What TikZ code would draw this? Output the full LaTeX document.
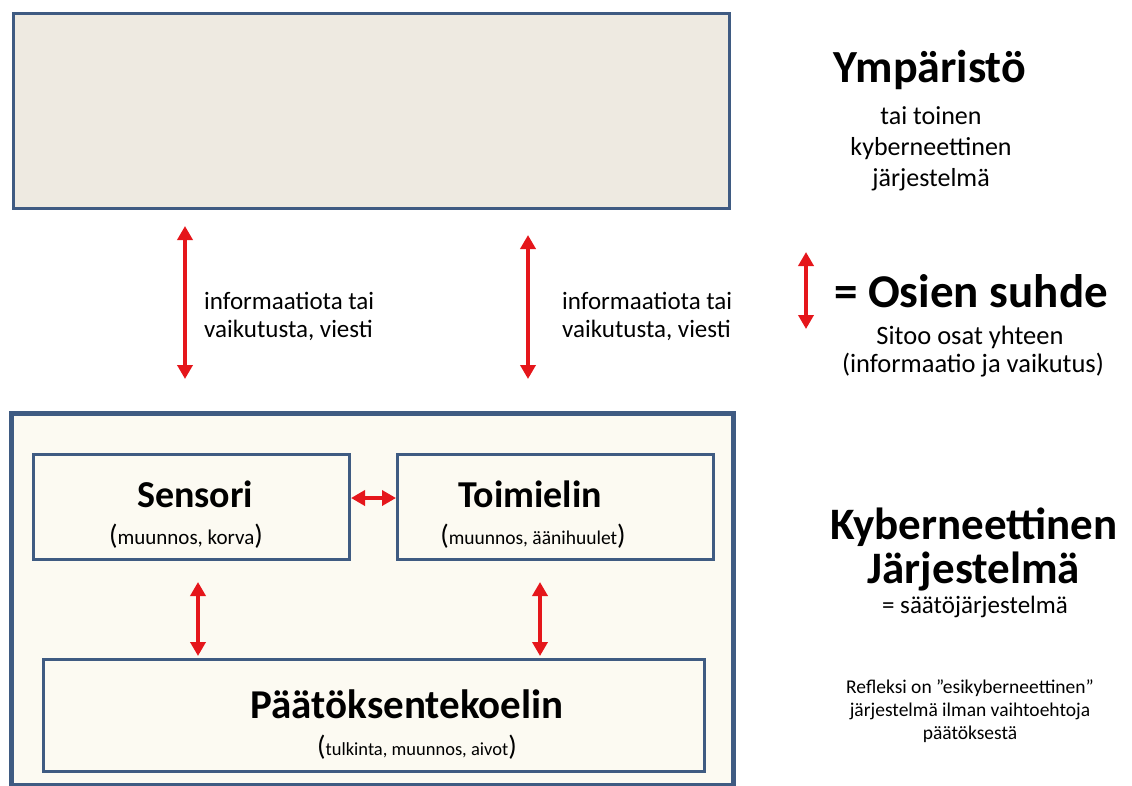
\documentclass[tikz,border=0pt]{standalone}
\usepackage{fontspec}
\setmainfont{Carlito}
\usetikzlibrary{arrows.meta}
\definecolor{boxline}{HTML}{3F5B82}
\definecolor{envfill}{HTML}{EEEAE1}
\definecolor{sysfill}{HTML}{FCFAF2}
\definecolor{linkred}{HTML}{E5161B}
\newcommand{\bigparen}[1]{{\fontsize{28}{28}\selectfont(}#1{\fontsize{28}{28}\selectfont)}}
\begin{document}
\begin{tikzpicture}[x=1pt,y=-1pt,
    part/.style ={draw=boxline, line width=3pt, fill=sysfill, inner sep=0pt, anchor=north west},
    link/.style ={linkred, line width=4pt, {Triangle[length=14pt,width=15pt]}-{Triangle[length=14pt,width=15pt]}},
    txt/.style ={inner sep=0pt, align=center}]
 \useasboundingbox (0,0) rectangle (1132,785);
 % boxes
 \node[part, fill=envfill, minimum width=716pt, minimum height=195pt] (env) at (12,12) {};
 \fill[black!55] (16,415) rectangle (736,790);
 \node[part, line width=4.5pt, minimum width=722pt, minimum height=372pt] (sys) at (9,411) {};
 \node[part, minimum width=316pt, minimum height=105pt] (sensor) at (32,453) {};
 \node[part, minimum width=316pt, minimum height=105pt] (act) at (396,453) {};
 \node[part, minimum width=661pt, minimum height=112pt] (dec) at (42,658) {};
 % box texts
 \node[txt, font=\bfseries\fontsize{38}{40}\selectfont] (sensorname) at (195,494) {Sensori};
 \node[txt, font=\fontsize{21}{24}\selectfont] (sensornote) at (186,536) {\bigparen{muunnos, korva}};
 \node[txt, font=\bfseries\fontsize{38}{40}\selectfont] (actname) at (530,494) {Toimielin};
 \node[txt, font=\fontsize{19.5}{24}\selectfont] (actnote) at (533,536) {\bigparen{muunnos, äänihuulet}};
 \node[txt, font=\bfseries\fontsize{41}{44}\selectfont] (decname) at (407,704) {Päätöksentekoelin};
 \node[txt, font=\fontsize{18.5}{22}\selectfont] (decnote) at (417,747) {\bigparen{tulkinta, muunnos,\ aivot}};
 % links
 \coordinate (la) at (185,226); \coordinate (lb) at (185,379);
 \coordinate (ra) at (528,235); \coordinate (rb) at (528,379);
 \draw[link] (la) -- (lb);
 \draw[link] (ra) -- (rb);
 \node[txt, align=left, anchor=west, font=\fontsize{25}{28}\selectfont] (linfo) at (204,316) {informaatiota tai\\vaikutusta, viesti};
 \node[txt, align=left, anchor=west, font=\fontsize{25}{28}\selectfont] (rinfo) at (562,316) {informaatiota tai\\vaikutusta, viesti};
 \draw[link] (sensor.east |- 0,498) -- (act.west |- 0,498);
 \coordinate (sa) at (198,582); \coordinate (sb) at (198,656);
 \coordinate (aa) at (540,582); \coordinate (ab) at (540,656);
 \draw[link] (sa) -- (sb);
 \draw[link] (aa) -- (ab);
 % right column
 \node[txt, font=\bfseries\fontsize{46}{48}\selectfont] (envtitle) at (930,70) {Ympäristö};
 \node[txt, font=\fontsize{26}{31}\selectfont] (envnote) at (931,149) {tai toinen\\kyberneettinen\\järjestelmä};
 \coordinate (ka) at (806,252); \coordinate (kb) at (806,329);
 \draw[link] (ka) -- (kb);
 \node[txt, font=\bfseries\fontsize{47}{50}\selectfont] (keytitle) at (971,291) {= Osien suhde};
 \node[txt, font=\fontsize{26.5}{28}\selectfont] (keynote) at (970,352) {Sitoo osat yhteen\\\ (informaatio ja vaikutus)};
 \node[txt, font=\bfseries\fontsize{45}{44}\selectfont] (systitle) at (974,549) {Kyberneettinen\\Järjestelmä};
 \node[txt, font=\fontsize{25}{28}\selectfont] (sysnote) at (975,607) {= säätöjärjestelmä};
 \node[txt, font=\fontsize{19.5}{23}\selectfont] (reflex) at (970,711) {Refleksi on ”esikyberneettinen”\\järjestelmä ilman vaihtoehtoja\\päätöksestä};
\end{tikzpicture}
\end{document}
